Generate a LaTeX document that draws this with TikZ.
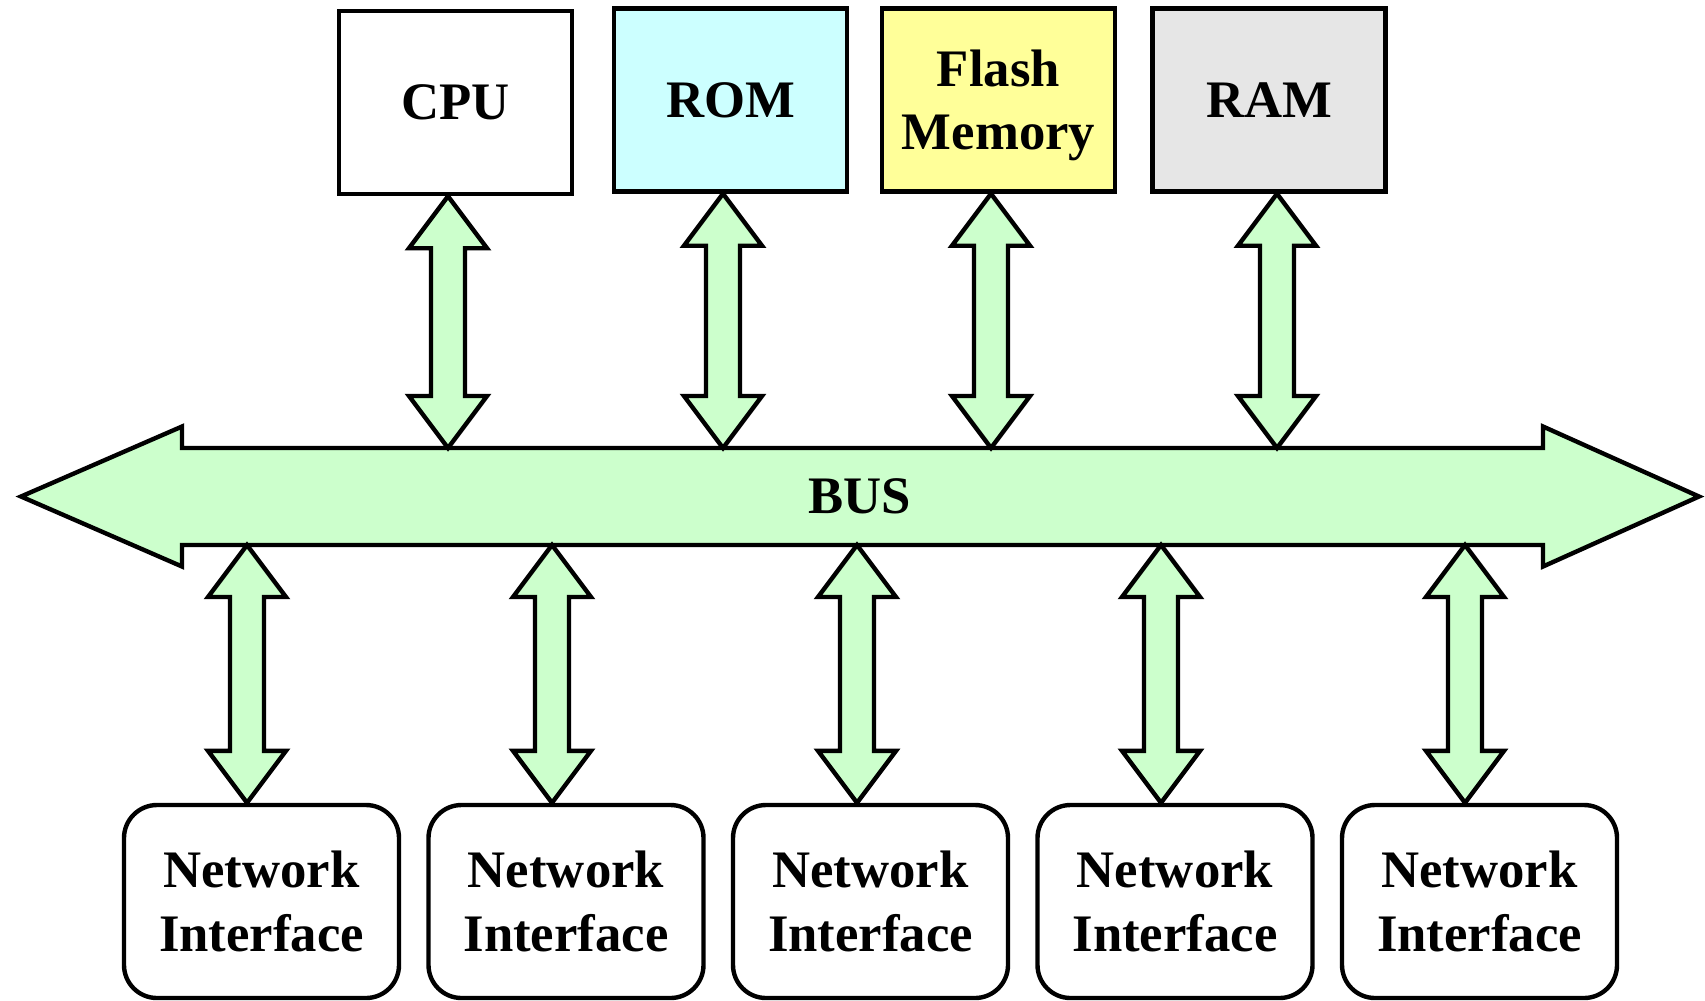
\documentclass[tikz,border=0pt]{standalone}
\usepackage{fontspec}
\setmainfont{Liberation Serif}
\usepackage{tikz}
\usetikzlibrary{positioning,calc}

\definecolor{busgreen}{HTML}{CCFFCC}
\definecolor{romcyan}{HTML}{CCFFFF}
\definecolor{flashyellow}{HTML}{FFFF99}
\definecolor{ramgray}{HTML}{E6E6E6}

\begin{document}
\begin{tikzpicture}[x=0.1mm, y=-0.1mm, line width=1.25pt,
        every node/.style={font=\fontsize{15}{18}\selectfont\bfseries, align=center},
        unit/.style={draw, minimum width=23.3mm, minimum height=18.3mm, inner sep=0pt, text depth=0pt},
        netif/.style={draw, rounded corners=3.3mm, minimum width=27.5mm, minimum height=19.3mm, inner sep=0pt},
        fat link/.style={draw, fill=busgreen, to path={let \p1=(\tikztostart), \p2=(\tikztotarget) in
            -- (\x1+3.9mm,\y1-5.2mm) -- (\x1+1.7mm,\y1-5.2mm) -- (\x1+1.7mm,\y2+5.2mm) -- (\x1+3.9mm,\y2+5.2mm)
            -- (\x1,\y2) -- (\x1-3.9mm,\y2+5.2mm) -- (\x1-1.7mm,\y2+5.2mm) -- (\x1-1.7mm,\y1-5.2mm)
            -- (\x1-3.9mm,\y1-5.2mm) -- cycle}}]

            \useasboundingbox (0,0) rectangle (1705,1000);

            % memory and processor on top
            \node[unit]                   (cpu)   at (455.5,102.5) {CPU};
            \node[unit, fill=romcyan]     (rom)   at (730.5,100)   {ROM};
            \node[unit, fill=flashyellow] (flash) at (998.5,100)   {Flash\\Memory};
            \node[unit, fill=ramgray]     (ram)   at (1269,100)    {RAM};

            % the bus
            \draw[fill=busgreen] (21,496.5) -- (182,426.5) -- (182,448) -- (1543,448) -- (1543,426.5)
                -- (1699,496.5) -- (1543,566.5) -- (1543,545) -- (182,545) -- (182,566.5) -- cycle;
            \node (bus) at (860,496.5) {BUS};

            \coordinate (t1) at (448,448);
            \coordinate (t2) at (723,448);
            \coordinate (t3) at (991,448);
            \coordinate (t4) at (1277,448);

            \coordinate (b1) at (247,545);
            \coordinate (b2) at (552,545);
            \coordinate (b3) at (857,545);
            \coordinate (b4) at (1161,545);
            \coordinate (b5) at (1465,545);

            % network interfaces below
            \node[netif] (ni1) at (261.5,901.5)  {Network\\Interface};
            \node[netif] (ni2) at (566,901.5)    {Network\\Interface};
            \node[netif] (ni3) at (870.5,901.5)  {Network\\Interface};
            \node[netif] (ni4) at (1175,901.5)   {Network\\Interface};
            \node[netif] (ni5) at (1479.5,901.5) {Network\\Interface};

            \path
                (cpu.south -| t1)   edge[fat link] (t1)
                (rom.south -| t2)   edge[fat link] (t2)
                (flash.south -| t3) edge[fat link] (t3)
                (ram.south -| t4)   edge[fat link] (t4)
                (b1) edge[fat link] (b1 |- ni1.north)
                (b2) edge[fat link] (b2 |- ni2.north)
                (b3) edge[fat link] (b3 |- ni3.north)
                (b4) edge[fat link] (b4 |- ni4.north)
                (b5) edge[fat link] (b5 |- ni5.north);

        \end{tikzpicture}
\end{document}
